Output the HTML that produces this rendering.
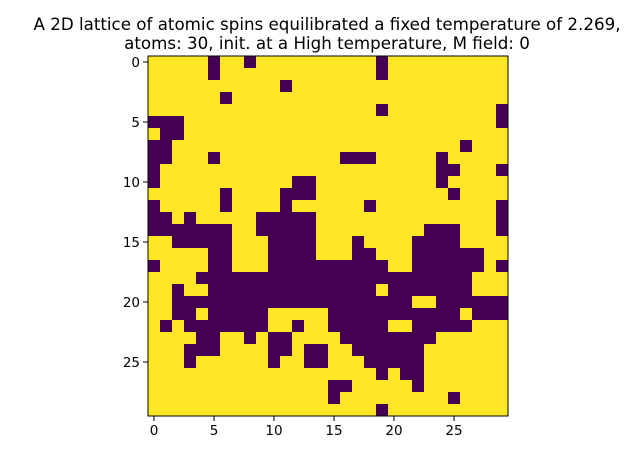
<!DOCTYPE html>
<html><head><meta charset="utf-8"><style>
body{margin:0;background:#fff;}
svg{display:block;font-family:"DejaVu Sans","Liberation Sans",sans-serif;}
</style></head><body>
<svg id="chart" width="640" height="467" viewBox="0 0 640 467">
<text x="327" y="30" font-size="16.7" text-anchor="middle">A 2D lattice of atomic spins equilibrated a fixed temperature of 2.269,</text>
<text x="327" y="49" font-size="16.7" text-anchor="middle">atoms: 30, init. at a High temperature, M field: 0</text>
<g id="cells"></g>
<rect x="148" y="56" width="360" height="360" fill="none" stroke="#000" stroke-width="1"/>
<g id="xticks"></g>
<g id="yticks"></g>
</svg>
<script>
const spinRows = [
"000001001000000000010000000000",
"000001000000000000010000000000",
"000000000001000000000000000000",
"000000100000000000000000000000",
"000000000000000000010000000001",
"111000000000000000000000000001",
"011000000000000000000000000000",
"110000000000000000000000001000",
"110001000000000011100000100000",
"100000000000000000000000110001",
"100000000000110000000000100000",
"000000100001110000000000010000",
"100000100001000000100000000001",
"110100000111110000000000000001",
"111111100111110000000001110001",
"001111100011110001000011110000",
"000001100011110001100011111100",
"100001100011111111110011111101",
"000011111111111111111111111000",
"001001111111111111101111111000",
"001111111111111111111100111111",
"001101111100000111111111110111",
"010111111100100111110011111000",
"000011001011000011111111000000",
"000111000011011001111110000000",
"000100000010011000111110000000",
"000000000000000000010110000000",
"000000000000000110000010000000",
"000000000000000100000000010000",
"000000000000000000010000000000"
];
const xTickValues = [0,5,10,15,20,25];
const yTickValues = [0,5,10,15,20,25];
const nCols = 30, nRows = 30;
const x0 = 148, y0 = 56, W = 360, H = 360;
const xScale = c => x0 + (c + 0.5) * W / nCols;
const yScale = r => y0 + (r + 0.5) * H / nRows;
const cw = W / nCols, ch = H / nRows;
const NS = "http://www.w3.org/2000/svg";
const cells = document.getElementById("cells");
spinRows.forEach((row, r) => {
  for (let c = 0; c < nCols; c++) {
    const rect = document.createElementNS(NS, "rect");
    
    
    rect.setAttribute("x", xScale(c) - cw / 2);
    rect.setAttribute("y", yScale(r) - ch / 2);
    rect.setAttribute("width", cw + 0.3);
    rect.setAttribute("height", ch + 0.3);
    rect.setAttribute("fill", row[c] === "1" ? "#440154" : "#fde725");
    cells.appendChild(rect);
  }
});
const xt = document.getElementById("xticks");
xTickValues.forEach(v => {
  const x = xScale(v);
  const l = document.createElementNS(NS, "line");
  
  
  l.setAttribute("x1", x); l.setAttribute("x2", x);
  l.setAttribute("y1", y0 + H); l.setAttribute("y2", y0 + H + 5);
  l.setAttribute("stroke", "#000");
  xt.appendChild(l);
  const t = document.createElementNS(NS, "text");
  
  
  t.setAttribute("x", x); t.setAttribute("y", y0 + H + 19);
  t.setAttribute("font-size", "13.5");
  t.setAttribute("text-anchor", "middle");
  t.textContent = v;
  xt.appendChild(t);
});
const yt = document.getElementById("yticks");
yTickValues.forEach(v => {
  const y = yScale(v);
  const l = document.createElementNS(NS, "line");
  
  
  l.setAttribute("x1", x0 - 5); l.setAttribute("x2", x0);
  l.setAttribute("y1", y); l.setAttribute("y2", y);
  l.setAttribute("stroke", "#000");
  yt.appendChild(l);
  const t = document.createElementNS(NS, "text");
  
  
  t.setAttribute("x", x0 - 8); t.setAttribute("y", y + 5);
  t.setAttribute("font-size", "13.5");
  t.setAttribute("text-anchor", "end");
  t.textContent = v;
  yt.appendChild(t);
});
</script>
</body></html>
